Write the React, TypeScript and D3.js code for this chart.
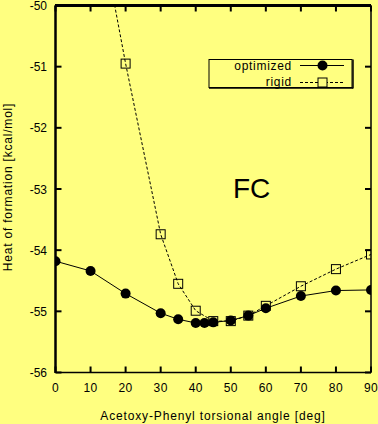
import React from "react";
import * as d3 from "d3";

const optAngles = [0, 10, 20, 30, 35, 40, 42.5, 45, 50, 55, 60, 70, 80, 90];
const optValues = [-54.18, -54.34, -54.71, -55.03, -55.13, -55.19, -55.19, -55.18, -55.15, -55.07, -54.95, -54.75, -54.66, -54.65];
const rigidAngles = [10, 20, 30, 35, 40, 45, 50, 55, 60, 70, 80, 90];
const rigidValues = [-47.9, -50.95, -53.74, -54.55, -54.99, -55.16, -55.16, -55.07, -54.91, -54.59, -54.31, -54.07];
const xTicks = [0, 10, 20, 30, 40, 50, 60, 70, 80, 90];
const yTicks = [-50, -51, -52, -53, -54, -55, -56];

const W = 378, H = 424;
const L = 55.5, R = 371, T = 5.5, B = 372.5;
const FONT = "'Liberation Sans', Arial, sans-serif";
const BG = "#ffff80";

export default function App() {
  const x = d3.scaleLinear().domain([0, 90]).range([L, R]);
  const y = d3.scaleLinear().domain([-56, -50]).range([B, T]);
  const optLine = d3.line<number>().x((_, i) => x(optAngles[i])).y((v) => y(v));
  const rigidLine = d3.line<number>().x((_, i) => x(rigidAngles[i])).y((v) => y(v));
  const tick = 6;
  return (
    <svg width={W} height={H} style={{ position: "absolute", left: 0, top: 0, background: BG }} fontFamily={FONT}>
      <rect x={0} y={0} width={W} height={H} fill={BG} />
      <defs>
        <clipPath id="plot">
          <rect x={L} y={T} width={R - L} height={B - T} />
        </clipPath>
      </defs>
      {xTicks.map((t) => (
        <g key={"x" + t}>
          <line x1={x(t)} x2={x(t)} y1={B} y2={B - tick} stroke="#000" strokeWidth={2} />
          <line x1={x(t)} x2={x(t)} y1={T} y2={T + tick} stroke="#000" strokeWidth={2} />
          <text x={x(t)} y={392} fontSize={12} textAnchor="middle" letterSpacing={0.4}>{t}</text>
        </g>
      ))}
      {yTicks.map((t) => (
        <g key={"y" + t}>
          <line x1={L} x2={L + tick} y1={y(t)} y2={y(t)} stroke="#000" strokeWidth={2} />
          <line x1={R} x2={R - tick} y1={y(t)} y2={y(t)} stroke="#000" strokeWidth={2} />
          <text x={47} y={y(t) + 4.5} fontSize={12} textAnchor="end">{t}</text>
        </g>
      ))}
      <line x1={L} x2={R} y1={B} y2={B} stroke="#000" strokeWidth={1.5} />
      <line x1={R} x2={R} y1={T} y2={B} stroke="#000" strokeWidth={1.5} />
      <line x1={L - 0.5} x2={R} y1={T} y2={T} stroke="#000" strokeWidth={3} />
      <line x1={L} x2={L} y1={T} y2={B + 0.5} stroke="#000" strokeWidth={2.5} />
      <g clipPath="url(#plot)">
        <path d={rigidLine(rigidValues) || ""} fill="none" stroke="#000" strokeWidth={1} strokeDasharray="3,2" />
        {rigidAngles.map((a, i) => (
          <rect key={"r" + i} x={x(a) - 4.5} y={y(rigidValues[i]) - 4.5} width={9} height={9} fill="none" stroke="#000" strokeWidth={1} />
        ))}
        <path d={optLine(optValues) || ""} fill="none" stroke="#000" strokeWidth={1} />
        {optAngles.map((a, i) => (
          <circle key={"o" + i} cx={x(a)} cy={y(optValues[i])} r={5} fill="#000" />
        ))}
      </g>
      <rect x={209} y={59.5} width={143} height={28} fill="none" stroke="#000" strokeWidth={1} />
      <line x1={209} x2={353} y1={88} y2={88} stroke="#000" strokeWidth={1.5} />
      <line x1={353} x2={353} y1={59.5} y2={88.5} stroke="#000" strokeWidth={1.5} />
      <text x={292} y={70} fontSize={12} textAnchor="end" letterSpacing={0.7}>optimized</text>
      <text x={292} y={86} fontSize={12} textAnchor="end" letterSpacing={0.7}>rigid</text>
      <line x1={300} x2={344} y1={65.5} y2={65.5} stroke="#000" strokeWidth={1} />
      <circle cx={322.5} cy={65.5} r={5} fill="#000" />
      <line x1={300} x2={344} y1={82.5} y2={82.5} stroke="#000" strokeWidth={1} strokeDasharray="3,2" />
      <rect x={318} y={78} width={9} height={9} fill={BG} stroke="#000" strokeWidth={1} />
      <text x={233} y={198} fontSize={28}>FC</text>
      <text x={213} y={420} fontSize={12} textAnchor="middle" letterSpacing={0.85}>Acetoxy-Phenyl torsional angle [deg]</text>
      <text transform="translate(12,187) rotate(-90)" fontSize={12} textAnchor="middle" letterSpacing={0.8}>Heat of formation [kcal/mol]</text>
    </svg>
  );
}
